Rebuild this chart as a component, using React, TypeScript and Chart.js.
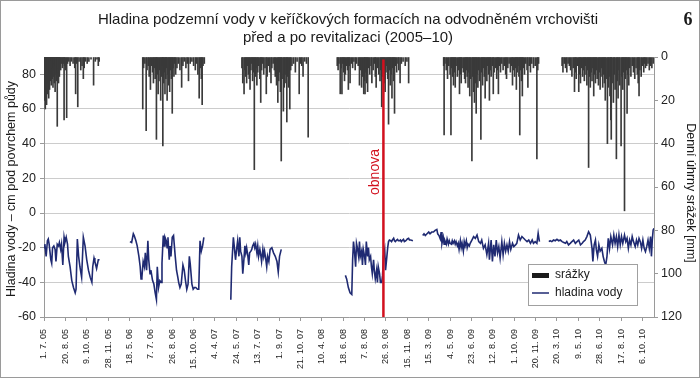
import React, { useEffect, useRef } from 'react';
import { Chart, registerables } from 'chart.js';

Chart.register(...registerables);

// Category-axis tick labels (one every 50 measurement days; winters omitted)
const xTickLabels = [
  '1. 7. 05', '20. 8. 05', '9. 10. 05', '28. 11. 05', '18. 5. 06', '7. 7. 06', '26. 8. 06',
  '15. 10. 06', '4. 4. 07', '24. 5. 07', '13. 7. 07', '1. 9. 07', '21. 10. 07', '10. 4. 08',
  '18. 6. 08', '7. 8. 08', '26. 9. 08', '15. 11. 08', '15. 3. 09', '4. 5. 09', '23. 6. 09',
  '12. 8. 09', '1. 10. 09', '20. 11. 09', '20. 3. 10', '9. 5. 10', '28. 6. 10', '17. 8. 10',
  '6. 10. 10',
];
const DAYS_PER_LABEL = 50;
const LAST_DAY = 1427;
const revitalizationDay = 794;

// Daily precipitation [day index, mm]
const precip2005: [number, number][] = [
  [0, 14], [1, 20], [2, 18], [3, 24], [4, 9], [5, 16], [6, 22], [7, 6], [8, 12], [9, 17], [10, 4],
  [11, 19], [12, 8], [13, 15], [14, 3], [15, 11], [16, 7], [17, 13], [18, 2], [19, 10], [20, 5],
  [21, 14], [22, 9], [23, 3], [24, 12], [25, 6], [26, 16], [27, 4], [28, 8], [29, 11], [30, 3],
  [31, 32], [32, 7], [33, 5], [34, 12], [35, 2], [36, 9], [37, 4], [39, 6], [41, 3], [43, 5],
  [45, 3], [47, 29], [48, 4], [50, 6], [53, 28], [55, 3], [58, 2], [61, 4], [64, 2], [68, 3],
  [72, 5], [74, 17], [76, 3], [79, 23], [82, 2], [86, 6], [89, 4], [92, 10], [94, 5], [97, 2],
  [101, 3], [105, 2], [110, 1], [116, 13], [120, 2], [124, 1], [127, 4], [129, 2],
];
const precip2006: [number, number][] = [
  [231, 24], [233, 5], [236, 3], [239, 34], [241, 6], [244, 4], [246, 9], [249, 15], [251, 4],
  [254, 7], [256, 12], [258, 5], [260, 10], [262, 6], [263, 38], [265, 8], [267, 17], [269, 11],
  [271, 6], [273, 20], [275, 9], [277, 4], [278, 41], [280, 12], [281, 7], [283, 17], [285, 10],
  [286, 5], [288, 20], [290, 8], [292, 13], [294, 16], [296, 6], [298, 10], [300, 26], [302, 5],
  [304, 9], [306, 3], [308, 8], [311, 5], [314, 3], [318, 6], [322, 14], [325, 4], [328, 2],
  [332, 5], [335, 3], [338, 11], [342, 3], [346, 2], [350, 4], [354, 6], [357, 3], [360, 8],
  [363, 19], [366, 5], [368, 10], [370, 22], [372, 4], [375, 3],
];
const precip2007: [number, number][] = [
  [463, 5], [465, 12], [468, 17], [470, 6], [472, 9], [474, 12], [476, 4], [478, 8], [480, 10],
  [482, 15], [484, 6], [486, 3], [488, 11], [490, 7], [492, 52], [494, 9], [496, 5], [498, 13],
  [500, 7], [502, 4], [505, 10], [507, 21], [509, 6], [511, 3], [514, 8], [517, 5], [520, 17],
  [522, 9], [525, 4], [528, 7], [531, 12], [533, 5], [536, 3], [539, 6], [541, 9], [544, 13],
  [547, 21], [549, 11], [551, 7], [553, 16], [555, 48], [557, 10], [560, 25], [562, 14], [564, 8],
  [566, 12], [568, 30], [570, 9], [572, 14], [575, 24], [577, 6], [580, 4], [584, 3], [588, 7],
  [592, 2], [597, 17], [600, 3], [603, 4], [606, 9], [610, 2], [614, 3], [618, 37],
];
const precip2008: [number, number][] = [
  [686, 4], [688, 6], [690, 3], [693, 17], [695, 5], [697, 17], [699, 3], [701, 7], [703, 11],
  [705, 8], [708, 4], [710, 6], [712, 15], [714, 4], [716, 12], [719, 3], [722, 5], [725, 2],
  [728, 6], [731, 3], [735, 4], [738, 13], [740, 6], [743, 14], [745, 9], [748, 17], [750, 11],
  [751, 17], [753, 7], [755, 12], [757, 16], [759, 5], [762, 8], [765, 4], [767, 12], [770, 6],
  [773, 3], [775, 9], [777, 14], [780, 5], [783, 8], [786, 11], [788, 6], [790, 23], [792, 9],
  [794, 5], [796, 12], [798, 16], [800, 7], [802, 4], [804, 10], [806, 31], [808, 6], [810, 13],
  [812, 8], [814, 19], [816, 5], [818, 11], [820, 26], [822, 4], [825, 7], [828, 3], [830, 6],
  [833, 12], [836, 3], [840, 2], [845, 4], [849, 2], [853, 12],
];
const precip2009: [number, number][] = [
  [935, 4], [936, 36], [938, 3], [941, 6], [944, 10], [947, 4], [950, 8], [952, 36], [954, 5],
  [956, 9], [958, 13], [960, 7], [962, 14], [964, 4], [967, 9], [970, 6], [972, 17], [974, 8],
  [976, 12], [978, 5], [981, 7], [984, 10], [986, 12], [988, 6], [990, 9], [992, 14], [994, 7],
  [996, 18], [998, 10], [1001, 48], [1003, 9], [1005, 16], [1007, 21], [1009, 12], [1011, 26],
  [1013, 8], [1015, 14], [1017, 6], [1019, 11], [1022, 38], [1024, 7], [1026, 13], [1028, 5],
  [1030, 9], [1032, 19], [1034, 6], [1036, 11], [1038, 4], [1040, 8], [1042, 20], [1044, 6],
  [1046, 9], [1049, 4], [1051, 17], [1053, 7], [1056, 5], [1059, 10], [1061, 6], [1063, 17],
  [1065, 4], [1068, 7], [1071, 3], [1074, 6], [1077, 4], [1080, 8], [1082, 10], [1085, 5],
  [1088, 3], [1091, 7], [1094, 4], [1096, 13], [1098, 6], [1101, 9], [1103, 5], [1105, 15],
  [1107, 7], [1109, 4], [1111, 9], [1113, 36], [1115, 6], [1117, 11], [1119, 18], [1121, 5],
  [1124, 8], [1127, 3], [1130, 6], [1132, 14], [1135, 4], [1138, 7], [1141, 3], [1145, 5],
  [1149, 4], [1153, 47], [1155, 6], [1157, 3],
];
const precip2010: [number, number][] = [
  [1212, 4], [1214, 7], [1217, 3], [1220, 5], [1223, 7], [1226, 3], [1229, 4], [1232, 6],
  [1235, 9], [1238, 5], [1241, 16], [1243, 7], [1245, 10], [1248, 4], [1251, 16], [1253, 8],
  [1255, 12], [1257, 5], [1260, 9], [1262, 6], [1264, 11], [1266, 4], [1268, 8], [1270, 13],
  [1272, 6], [1274, 51], [1276, 9], [1278, 14], [1280, 7], [1282, 11], [1284, 5], [1286, 18],
  [1288, 8], [1290, 12], [1292, 6], [1294, 10], [1297, 13], [1299, 7], [1301, 15], [1303, 9],
  [1305, 5], [1307, 14], [1309, 8], [1311, 12], [1313, 20], [1315, 10], [1318, 40], [1320, 14],
  [1322, 9], [1324, 18], [1326, 29], [1327, 38], [1329, 12], [1332, 21], [1334, 8], [1336, 15],
  [1339, 47], [1341, 11], [1343, 19], [1345, 6], [1347, 13], [1350, 41], [1352, 9], [1354, 15],
  [1356, 7], [1358, 71], [1360, 10], [1362, 6], [1364, 26], [1366, 8], [1368, 13], [1370, 5],
  [1373, 9], [1376, 4], [1379, 7], [1382, 10], [1385, 5], [1388, 8], [1390, 12], [1392, 18],
  [1394, 6], [1397, 9], [1400, 4], [1403, 7], [1405, 3], [1407, 5], [1410, 4], [1413, 3],
  [1416, 6], [1419, 4], [1422, 5], [1425, 3],
];

// Water table [day index, cm]
const water2005: [number, number][] = [
  [0, -20], [2, -18], [5, -25], [8, -16], [10, -15], [12, -18], [16, -27], [18, -29], [20, -20],
  [23, -19], [26, -21], [28, -28], [31, -18], [34, -19], [36, -17], [39, -21], [41, -18],
  [44, -30], [47, -14], [49, -17], [52, -14], [55, -18], [57, -25], [61, -31], [65, -39],
  [69, -43], [73, -46], [75, -44], [78, -15], [81, -25], [84, -31], [88, -37], [92, -14],
  [96, -19], [100, -27], [104, -33], [108, -37], [112, -40], [114, -31], [117, -26], [119, -28],
  [123, -32], [127, -27], [130, -27],
];
const water2006: [number, number][] = [
  [201, -16.5], [205, -17], [209, -12], [211, -13], [215, -16], [218, -19], [222, -25],
  [225, -31], [227, -38], [229, -37], [232, -28], [235, -31], [237, -23], [240, -33], [243, -16],
  [245, -27], [248, -35], [250, -33], [254, -39], [257, -41], [260, -46], [263, -50], [265, -31],
  [268, -43], [271, -39], [274, -40], [276, -29], [279, -13], [281, -19], [283, -14], [286, -16],
  [288, -20], [290, -14], [293, -27], [295, -19], [297, -25], [300, -14], [303, -13], [305, -19],
  [307, -25], [310, -33], [313, -37], [315, -40], [318, -43], [321, -41], [325, -30], [328, -33],
  [331, -39], [334, -44], [337, -41], [340, -25], [342, -29], [346, -41], [349, -44], [352, -43],
  [355, -43], [359, -44], [362, -44], [365, -16], [368, -22], [371, -19], [374, -14],
];
const water2007: [number, number][] = [
  [437, -50], [439, -31], [443, -14], [445, -19], [448, -27], [451, -20], [453, -16], [456, -25],
  [458, -14], [460, -22], [463, -25], [465, -35], [467, -29], [470, -19], [472, -23], [474, -20],
  [477, -25], [479, -30], [481, -23], [484, -22], [486, -21], [488, -19], [491, -17.5], [493, -20],
  [495, -18], [498, -23], [500, -19], [502, -25], [505, -21], [507, -24], [509, -28], [512, -21],
  [514, -25], [516, -22], [519, -27], [521, -31], [523, -25], [526, -28], [529, -21], [533, -20],
  [537, -23], [541, -25], [545, -28], [548, -34], [551, -25], [555, -21],
];
const water2008: [number, number][] = [
  [705, -36], [708, -38], [712, -43], [716, -46], [720, -47], [722, -27], [724, -16.5], [726, -21],
  [729, -31], [731, -17.5], [733, -20], [736, -25], [738, -16.5], [740, -25], [743, -22],
  [745, -30], [747, -21], [750, -25], [752, -30], [754, -16.5], [757, -25], [759, -20], [761, -27],
  [764, -25], [766, -31], [768, -35], [771, -27], [773, -34], [775, -38], [778, -33], [780, -40],
  [782, -31], [785, -35], [787, -40], [790, -40], [792, -36], [794, -25], [797, -21], [799, -33],
  [801, -28], [804, -20], [806, -16.5], [808, -15.6], [811, -16], [813, -16.5], [815, -15.6],
  [818, -14.6], [820, -16], [822, -16.5], [825, -15.6], [827, -15.2], [829, -16], [832, -16],
  [834, -15.6], [836, -16.5], [839, -15.6], [841, -15.2], [843, -16.5], [846, -16], [848, -15.6],
  [850, -15], [853, -14.6], [855, -15.6], [858, -15.6], [863, -16],
];
const water2009: [number, number][] = [
  [886, -13], [889, -12], [892, -13], [896, -12], [900, -11], [903, -12], [907, -11], [911, -11],
  [915, -10], [919, -9.5], [921, -12], [924, -13], [927, -15], [929, -11], [931, -17.5], [934, -14],
  [936, -18], [938, -16], [941, -18], [943, -15], [946, -18], [948, -16], [950, -17.5], [953, -18],
  [955, -16], [957, -17.5], [960, -16], [962, -18], [964, -16.5], [967, -19], [969, -17.5],
  [971, -21], [974, -16], [976, -20], [978, -17.5], [981, -22], [983, -16.5], [985, -19],
  [988, -16], [990, -20], [992, -18], [995, -19], [997, -17.5], [1001, -15.6], [1005, -13.6],
  [1009, -14.6], [1013, -12.7], [1017, -16.5], [1021, -17.5], [1024, -15.6], [1028, -20.4],
  [1032, -18.4], [1036, -24], [1040, -17.5], [1042, -27], [1046, -15.6], [1049, -28],
  [1052, -18.4], [1055, -25], [1058, -15.6], [1061, -23], [1064, -19.4], [1067, -26],
  [1071, -16.5], [1074, -24], [1077, -17.5], [1080, -22], [1083, -18.4], [1086, -22],
  [1089, -16.5], [1092, -21], [1096, -17.5], [1099, -19.4], [1103, -18.4], [1106, -17.5],
  [1110, -12.7], [1114, -15.6], [1118, -13.6], [1122, -14.6], [1126, -15.6], [1130, -16.5],
  [1134, -15.6], [1138, -17.5], [1142, -15.6], [1145, -17.5], [1149, -16.5], [1153, -17.5],
  [1156, -11.7], [1159, -16.5],
];
const water2010: [number, number][] = [
  [1181, -16.5], [1184, -16], [1188, -16.5], [1192, -15.6], [1196, -16], [1200, -15.2],
  [1204, -16], [1208, -15.6], [1212, -16.5], [1216, -17], [1220, -17.5], [1223, -16.5],
  [1227, -18.4], [1231, -17.5], [1235, -16.5], [1239, -15.6], [1243, -17.5], [1247, -16.5],
  [1251, -15.6], [1255, -18.4], [1259, -17.5], [1262, -16.5], [1266, -15.6], [1270, -13.6],
  [1274, -10.8], [1278, -12.7], [1282, -20.4], [1284, -28], [1287, -18.4], [1290, -15.6],
  [1292, -21], [1295, -25], [1298, -18.4], [1301, -22], [1305, -20.4], [1308, -25], [1311, -28],
  [1314, -30], [1317, -25], [1320, -14.6], [1323, -20.4], [1326, -13.6], [1330, -18.4],
  [1333, -12.7], [1336, -17.5], [1339, -13.6], [1342, -19.4], [1345, -12.7], [1348, -18.4],
  [1351, -13.6], [1354, -17.5], [1358, -12.7], [1361, -16.5], [1364, -14.6], [1367, -20.4],
  [1370, -15.6], [1373, -18.4], [1376, -13.6], [1379, -16.5], [1383, -19.4], [1386, -15.6],
  [1389, -18.4], [1392, -14.6], [1395, -16.5], [1398, -20.4], [1401, -15.6], [1404, -20.4],
  [1407, -22.3], [1410, -19.4], [1413, -15.6], [1416, -20.4], [1419, -13.6], [1421, -25],
  [1423, -15.6], [1425, -9.8], [1427, -8.8],
];

const precipSeasons = [precip2005, precip2006, precip2007, precip2008, precip2009, precip2010];
const waterSeasons = [water2005, water2006, water2007, water2008, water2009, water2010];

const FONT = "'Liberation Sans', Arial, Helvetica, sans-serif";
const WATER_COLOR = '#1f2a72';
const RED = '#d2101e';

const overlayPlugin = {
  id: 'overlay',
  beforeDraw(chart: any) {
    const ctx = chart.ctx;
    ctx.save();
    ctx.fillStyle = '#ffffff';
    ctx.fillRect(0, 0, chart.width, chart.height);
    ctx.restore();
  },
  afterDraw(chart: any) {
    const ctx = chart.ctx;
    const area = chart.chartArea;
    ctx.save();
    // title
    ctx.fillStyle = '#1a1a1a';
    ctx.textAlign = 'center';
    ctx.textBaseline = 'middle';
    ctx.font = `15px ${FONT}`;
    ctx.fillText('Hladina podzemní vody v keříčkových formacích na odvodněném vrchovišti', 348, 20);
    ctx.fillText('před a po revitalizaci (2005–10)', 348, 38);
    // panel number
    ctx.font = `bold 18px 'Liberation Serif', 'DejaVu Serif', serif`;
    ctx.fillText('6', 688, 20);
    // axis titles
    ctx.font = `12.5px ${FONT}`;
    ctx.save();
    ctx.translate(12, (area.top + area.bottom) / 2 + 2);
    ctx.rotate(-Math.PI / 2);
    ctx.fillText('Hladina vody – cm pod povrchem půdy', 0, 0);
    ctx.restore();
    ctx.save();
    ctx.translate(690, (area.top + area.bottom) / 2 + 6);
    ctx.rotate(Math.PI / 2);
    ctx.fillText('Denní úhrny srážek [mm]', 0, 0);
    ctx.restore();
    // revitalization label
    const xr = chart.scales.x.getPixelForValue(revitalizationDay);
    ctx.save();
    ctx.fillStyle = RED;
    ctx.font = `14px ${FONT}`;
    ctx.translate(xr - 8, 172);
    ctx.rotate(-Math.PI / 2);
    ctx.fillText('obnova', 0, 0);
    ctx.restore();
    // legend
    const lx = 528, ly = 264, lw = 109, lh = 41;
    ctx.fillStyle = '#ffffff';
    ctx.fillRect(lx, ly, lw, lh);
    ctx.strokeStyle = '#a0a0a0';
    ctx.lineWidth = 1;
    ctx.strokeRect(lx + 0.5, ly + 0.5, lw, lh);
    ctx.fillStyle = '#1a1a1a';
    ctx.fillRect(lx + 4, ly + 9, 17, 5);
    ctx.strokeStyle = WATER_COLOR;
    ctx.lineWidth = 1.5;
    ctx.beginPath();
    ctx.moveTo(lx + 4, ly + 29);
    ctx.lineTo(lx + 21, ly + 29);
    ctx.stroke();
    ctx.fillStyle = '#1a1a1a';
    ctx.textAlign = 'left';
    ctx.font = `12px ${FONT}`;
    ctx.fillText('srážky', lx + 27, ly + 11);
    ctx.fillText('hladina vody', lx + 27, ly + 29);
    // outer frame
    ctx.strokeStyle = '#9a9a9a';
    ctx.lineWidth = 1;
    ctx.strokeRect(0.5, 0.5, chart.width - 1, chart.height - 1);
    ctx.restore();
  },
};

export default function App() {
  const canvasRef = useRef<HTMLCanvasElement>(null);

  useEffect(() => {
    const canvas = canvasRef.current;
    if (!canvas) return;

    const precipData = precipSeasons.flat().map(([x, y]) => ({ x, y }));
    const waterData: { x: number; y: number | null }[] = [];
    waterSeasons.forEach((season, i) => {
      if (i > 0) waterData.push({ x: season[0][0] - 1, y: null });
      season.forEach(([x, y]) => waterData.push({ x, y }));
    });

    const chart = new Chart(canvas, {
      type: 'bar',
      data: {
        datasets: [
          {
            type: 'line',
            label: 'obnova',
            data: [
              { x: revitalizationDay, y: -60 },
              { x: revitalizationDay, y: 88.5 },
            ],
            yAxisID: 'y',
            borderColor: RED,
            borderWidth: 2.5,
            pointRadius: 0,
            order: 0,
          } as any,
          {
            type: 'line',
            label: 'hladina vody',
            data: waterData,
            yAxisID: 'y',
            borderColor: WATER_COLOR,
            borderWidth: 1.6,
            pointRadius: 0,
            spanGaps: false,
            tension: 0,
            order: 1,
          } as any,
          {
            type: 'bar',
            label: 'srážky',
            data: precipData,
            yAxisID: 'y2',
            backgroundColor: '#3a3a3a',
            borderWidth: 0,
            barThickness: 1,
            grouped: false,
            order: 2,
          } as any,
        ],
      },
      options: {
        animation: false,
        responsive: false,
        maintainAspectRatio: false,
        events: [],
        layout: { padding: { top: 57, left: 0, right: 0, bottom: 0 } },
        plugins: {
          legend: { display: false },
          title: { display: false },
          tooltip: { enabled: false },
        },
        scales: {
          x: {
            type: 'linear',
            min: 0,
            max: LAST_DAY,
            offset: false,
            afterFit: (s: any) => {
              s.height = 61;
            },
            border: { color: '#9a9a9a', width: 1 },
            grid: {
              offset: false,
              drawOnChartArea: false,
              drawTicks: true,
              tickLength: 4,
              color: '#9a9a9a',
            },
            ticks: {
              stepSize: DAYS_PER_LABEL,
              includeBounds: false,
              autoSkip: false,
              maxRotation: 90,
              minRotation: 90,
              padding: 8,
              color: '#222',
              font: { family: FONT, size: 9 },
              callback: (v: any) => {
                const i = Math.round(Number(v) / DAYS_PER_LABEL);
                return Number(v) % DAYS_PER_LABEL === 0 ? xTickLabels[i] ?? '' : '';
              },
            },
          },
          y: {
            type: 'linear',
            position: 'left',
            min: -60,
            max: 90,
            afterFit: (s: any) => {
              s.width = 44;
            },
            border: { color: '#9a9a9a', width: 1 },
            grid: { color: '#cccccc', lineWidth: 1, tickLength: 4, tickColor: '#9a9a9a' },
            ticks: {
              stepSize: 20,
              includeBounds: false,
              padding: 4,
              color: '#222',
              font: { family: FONT, size: 12.5 },
            },
          },
          y2: {
            type: 'linear',
            position: 'right',
            reverse: true,
            min: 0,
            max: 120,
            afterFit: (s: any) => {
              s.width = 46;
            },
            border: { color: '#9a9a9a', width: 1 },
            grid: { drawOnChartArea: false, tickLength: 4, color: '#9a9a9a' },
            ticks: {
              stepSize: 20,
              padding: 3,
              color: '#222',
              font: { family: FONT, size: 12.5 },
            },
          },
        },
      } as any,
      plugins: [overlayPlugin],
    });

    return () => chart.destroy();
  }, []);

  return (
    <div
      style={{
        position: 'fixed',
        left: 0,
        top: 0,
        width: 700,
        height: 378,
        background: '#ffffff',
      }}
    >
      <canvas ref={canvasRef} width={700} height={378} style={{ display: 'block', width: 700, height: 378 }} />
    </div>
  );
}
